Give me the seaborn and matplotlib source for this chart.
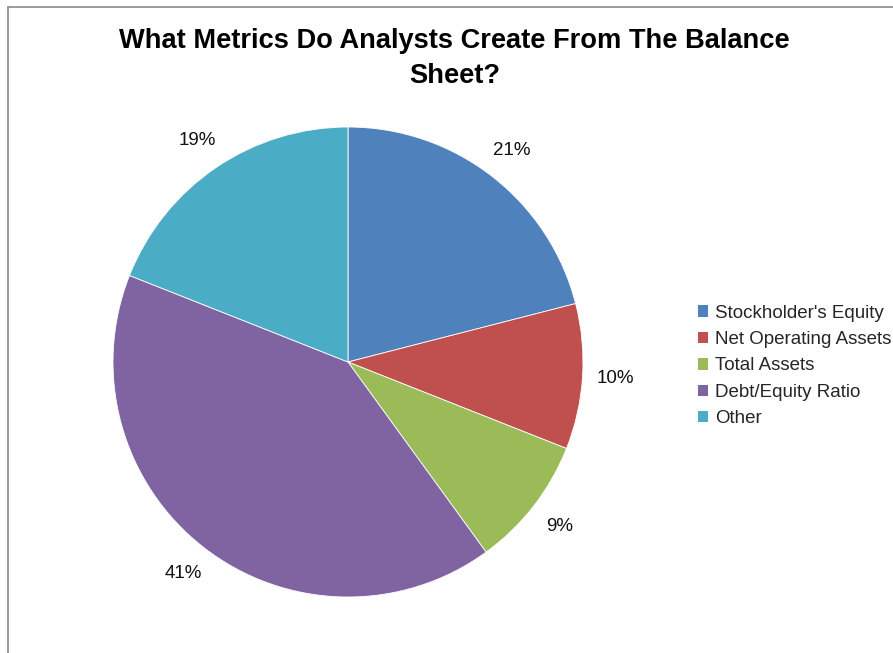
import matplotlib
matplotlib.use("Agg")
import matplotlib.pyplot as plt
from matplotlib.lines import Line2D
from matplotlib.patches import Patch
import seaborn as sns

categories = ["Stockholder's Equity", "Net Operating Assets", "Total Assets",
              "Debt/Equity Ratio", "Other"]
shares = [21, 10, 9, 41, 19]
slice_colors = ["#4F81BD", "#C0504D", "#9BBB59", "#8064A2", "#4BACC6"]
title_text = "What Metrics Do Analysts Create From The Balance\nSheet?"

sns.set_theme(style="white")
plt.rcParams["font.family"] = ["Liberation Sans", "DejaVu Sans"]
palette = sns.color_palette(slice_colors)

W, H = 893, 653
fig = plt.figure(figsize=(W / 100, H / 100), dpi=100)
fig.patch.set_facecolor("white")

# pie centred at (348, 362) px with radius 235 px
cx, cy, r = 348, 362, 235
ax = fig.add_axes([(cx - r) / W, (H - cy - r) / H, 2 * r / W, 2 * r / H])
wedges, texts, autotexts = ax.pie(
    shares, colors=palette, startangle=90, counterclock=False,
    autopct=lambda p: f"{p:.0f}%", pctdistance=1.14, radius=1.0,
    wedgeprops=dict(edgecolor="white", linewidth=0.6),
    textprops=dict(fontsize=13.5, color="#111111"))
ax.set_xlim(-1, 1)
ax.set_ylim(-1, 1)
ax.set_aspect("equal")
ax.axis("off")

fig.text(454.5 / W, 1 - 28 / H, title_text, ha="center", va="top",
         fontsize=19.6, fontweight="bold", linespacing=1.45, color="black")

handles = [Patch(facecolor=c, edgecolor="none") for c in palette]
fig.legend(handles, categories, loc="center left",
           bbox_to_anchor=(698 / W, 1 - 366 / H), frameon=False,
           fontsize=13.5, handlelength=0.55, handleheight=0.55,
           handletextpad=0.37, labelspacing=0.5, borderpad=0,
           borderaxespad=0)

# chart area frame (left and top edges)
fig.add_artist(Line2D([8 / W, 8 / W], [0, 1 - 7 / H], transform=fig.transFigure,
                      color="#8a8a8a", linewidth=1.2))
fig.add_artist(Line2D([8 / W, 1], [1 - 7 / H, 1 - 7 / H], transform=fig.transFigure,
                      color="#8a8a8a", linewidth=1.2))

fig.savefig("out.png", dpi=100, facecolor="white")
